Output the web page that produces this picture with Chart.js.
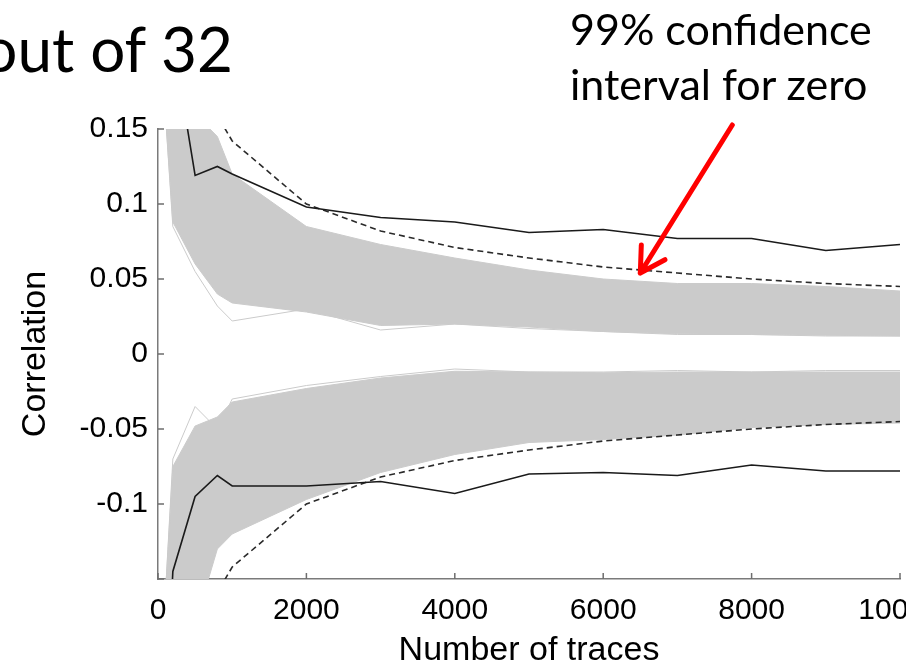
<!DOCTYPE html>
<html lang="en">
<head>
  <meta charset="UTF-8">
  <title>Correlation vs number of traces</title>
  <script src="https://cdn.jsdelivr.net/npm/chart.js"></script>
  <style>
    body { margin: 0; background: #fff; overflow: hidden; width: 914px; height: 668px; position: relative; }
    #wrap { position: absolute; left: 0; top: 0; width: 960px; height: 668px; }
    /* the slide crops the figure just past the last tick */
    #crop { position: absolute; left: 906px; top: 0; width: 20px; height: 668px; background: #fff; }
    .slide { position: absolute; font-family: Lato, "Open Sans", sans-serif; color: #000; white-space: nowrap; }
    #cut { right: 681px; top: 17px; font-size: 62px; line-height: 62px; }
    #note { left: 570px; top: 1px; font-size: 43px; line-height: 55px; }
  </style>
</head>
<body>
  <div id="wrap"><canvas id="corrChart"></canvas></div>
  <div id="crop"></div>
  <div class="slide" id="cut">out of 32</div>
  <div class="slide" id="note">99% confidence<br>interval for zero</div>

  <script>
    // number of traces at which the correlation was sampled
    const traces = [100, 200, 500, 800, 1000, 2000, 3000, 4000, 5000, 6000, 7000, 8000, 9000, 10000];

    // correct key hypothesis (black lines)
    const keyUpper = [0.30, 0.21, 0.119, 0.125, 0.12, 0.098, 0.091, 0.088, 0.081, 0.083, 0.077, 0.077, 0.069, 0.073];
    const keyLower = [-0.25, -0.145, -0.095, -0.081, -0.088, -0.088, -0.085, -0.093, -0.080, -0.079, -0.081, -0.074, -0.078, -0.078];

    // 99% confidence interval for zero (dashed)
    const confUpper = [null, null, 0.20, 0.159, 0.142, 0.100, 0.082, 0.071, 0.064, 0.058, 0.054, 0.050, 0.047, 0.045];
    const confLower = [null, null, -0.20, -0.159, -0.142, -0.100, -0.082, -0.071, -0.064, -0.058, -0.054, -0.050, -0.047, -0.045];

    // wrong key hypotheses: edges of the grey band
    const wrongPosTop = [0.35, 0.25, 0.16, 0.145, 0.12, 0.085, 0.073, 0.064, 0.056, 0.050, 0.047, 0.047, 0.045, 0.042];
    const wrongPosBottom = [0.16, 0.088, 0.06, 0.04, 0.034, 0.028, 0.019, 0.02, 0.018, 0.015, 0.0135, 0.013, 0.0125, 0.012];
    const wrongNegTop = [-0.16, -0.075, -0.048, -0.042, -0.032, -0.023, -0.016, -0.0115, -0.012, -0.0125, -0.012, -0.012, -0.012, -0.012];
    const wrongNegBottom = [-0.35, -0.27, -0.18, -0.13, -0.12, -0.097, -0.079, -0.067, -0.059, -0.057, -0.054, -0.049, -0.047, -0.046];

    // a couple of stray grey traces outside the dense band
    const strayPos = [0.16, 0.085, 0.055, 0.032, 0.022, 0.030, 0.016, 0.020, 0.017, 0.015, 0.013, 0.013, 0.012, 0.012];
    const strayNeg = [-0.16, -0.07, -0.035, -0.05, -0.03, -0.021, -0.015, -0.010, -0.012, -0.012, -0.011, -0.012, -0.011, -0.011];

    const xTicks = [0, 2000, 4000, 6000, 8000, 10000];
    const yTicks = [-0.15, -0.1, -0.05, 0, 0.05, 0.1, 0.15];

    const GREY = '#cbcbcb';
    const FONT = '"Liberation Sans", Arial, sans-serif';
    const pts = arr => traces.map((n, i) => ({ x: n, y: arr[i] }));

    function greyLine(data, fill) {
      return { data: pts(data), borderColor: GREY, backgroundColor: GREY, borderWidth: 1, fill: fill, order: 5 };
    }

    // inside tick marks (MATLAB style) and the red arrow
    const overlay = {
      id: 'overlay',
      afterDraw(chart) {
        const { ctx, chartArea, scales: { x, y } } = chart;
        ctx.save();
        ctx.strokeStyle = '#6e6e6e';
        ctx.lineWidth = 1.5;
        ctx.beginPath();
        yTicks.forEach(v => {
          const py = y.getPixelForValue(v);
          ctx.moveTo(chartArea.left, py);
          ctx.lineTo(chartArea.left + 6, py);
        });
        xTicks.forEach(v => {
          const px = x.getPixelForValue(v);
          ctx.moveTo(px, chartArea.bottom);
          ctx.lineTo(px, chartArea.bottom - 6);
        });
        ctx.stroke();

        // arrow pointing at the upper confidence bound
        const tx = x.getPixelForValue(6500), ty = y.getPixelForValue(0.054);
        const sx = tx + 92, sy = ty - 148;
        const ang = Math.atan2(sy - ty, sx - tx);
        ctx.strokeStyle = '#ff0000';
        ctx.lineWidth = 5;
        ctx.lineCap = 'round';
        ctx.beginPath();
        ctx.moveTo(sx, sy);
        ctx.lineTo(tx, ty);
        [-0.52, 0.52].forEach(d => {
          ctx.moveTo(tx, ty);
          ctx.lineTo(tx + 28 * Math.cos(ang + d), ty + 28 * Math.sin(ang + d));
        });
        ctx.stroke();
        ctx.restore();
      }
    };

    new Chart(document.getElementById('corrChart'), {
      type: 'line',
      data: {
        datasets: [
          { data: pts(keyUpper), borderColor: '#1a1a1a', borderWidth: 1.6, order: 0 },
          { data: pts(keyLower), borderColor: '#1a1a1a', borderWidth: 1.6, order: 0 },
          { data: pts(confUpper), borderColor: '#2a2a2a', borderWidth: 1.6, borderDash: [6, 4], order: 1 },
          { data: pts(confLower), borderColor: '#2a2a2a', borderWidth: 1.6, borderDash: [6, 4], order: 1 },
          greyLine(strayPos, false),
          greyLine(strayNeg, false),
          greyLine(wrongPosTop, '+1'),
          greyLine(wrongPosBottom, false),
          greyLine(wrongNegTop, '+1'),
          greyLine(wrongNegBottom, false)
        ]
      },
      options: {
        responsive: true,
        maintainAspectRatio: false,
        animation: false,
        events: [],
        elements: { point: { radius: 0 }, line: { tension: 0 } },
        layout: { padding: { left: 0, top: 129, right: 60, bottom: 0 } },
        plugins: { legend: { display: false }, tooltip: { enabled: false } },
        scales: {
          x: {
            type: 'linear',
            min: 0,
            max: 10000,
            afterFit: s => { s.height = 89; },
            afterBuildTicks: s => { s.ticks = xTicks.map(v => ({ value: v })); },
            grid: { display: false, drawTicks: false },
            border: { display: true, color: '#7a7a7a', width: 1.5 },
            ticks: {
              padding: 14,
              color: '#000',
              font: { family: FONT, size: 30 },
              callback: v => String(v),
              maxRotation: 0
            },
            title: {
              display: true,
              text: 'Number of traces',
              color: '#000',
              font: { family: FONT, size: 34, lineHeight: 1 },
              padding: { top: 0, bottom: 0 }
            }
          },
          y: {
            min: -0.15,
            max: 0.15,
            afterFit: s => { s.width = 158; },
            afterBuildTicks: s => { s.ticks = yTicks.map(v => ({ value: v })); },
            grid: { display: false, drawTicks: false },
            border: { display: true, color: '#7a7a7a', width: 1.5 },
            ticks: {
              padding: 10,
              color: '#000',
              font: { family: FONT, size: 30 },
              callback: v => (v <= -0.149 ? '' : String(Math.round(v * 100) / 100))
            },
            title: {
              display: true,
              text: 'Correlation',
              color: '#000',
              font: { family: FONT, size: 34, lineHeight: 1 },
              padding: { top: 19, bottom: 0 }
            }
          }
        }
      },
      plugins: [overlay]
    });
  </script>
</body>
</html>
